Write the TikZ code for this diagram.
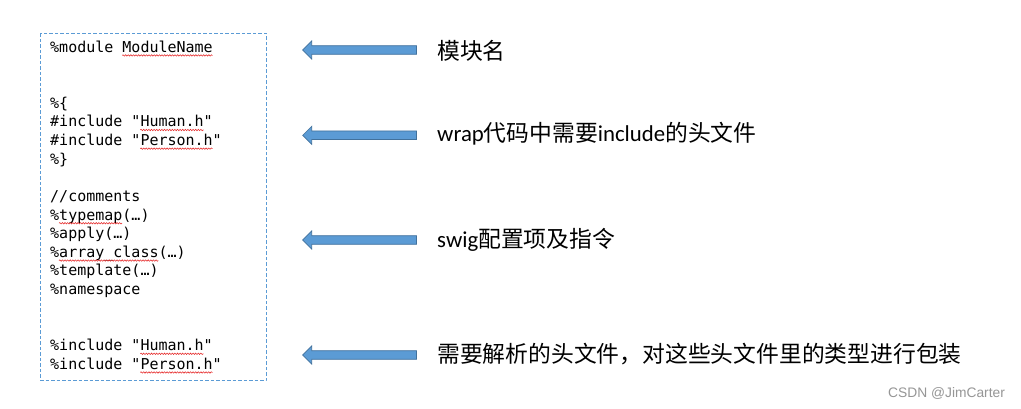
\documentclass[tikz,border=0pt]{standalone}
\usepackage{fontspec}
\setmainfont{Carlito}
\newfontfamily\cjk{Noto Sans CJK SC}
\newfontfamily\codefont{DejaVu Sans Mono}
\newfontfamily\wmfont{Liberation Sans}
\usetikzlibrary{decorations.pathmorphing}
\definecolor{arrowfill}{RGB}{91,155,213}
\definecolor{arrowedge}{RGB}{65,113,156}
\definecolor{boxedge}{RGB}{91,155,213}
\definecolor{wmgray}{RGB}{150,150,150}
\definecolor{squigred}{RGB}{230,40,40}
\def\cw{9.03}
\def\lh{18.65}
\def\by{52.2}
\newcommand\codeline[3]{\node[codetext] (#1) at (50,{\by+\lh*#2}) {#3};}
\newcommand\squig[3]{\draw[squiggle] ({50+\cw*#2},{\by+\lh*#1+3.2}) -- ({50+\cw*#3},{\by+\lh*#1+3.2});}
\newcommand\blockarrow[2]{%
  \coordinate (#1) at (302.7,#2);
  \filldraw[blockarrowstyle] (416.5,{#2-4.3}) -- (311.7,{#2-4.3}) -- (311.7,{#2-9}) -- (#1)
    -- (311.7,{#2+9}) -- (311.7,{#2+4.3}) -- (416.5,{#2+4.3}) -- cycle;}
\begin{document}
\begin{tikzpicture}[x=1pt,y=-1pt,
  codetext/.style={anchor=base west,inner sep=0pt,font=\codefont\fontsize{15}{18}\selectfont},
  lbl/.style={anchor=base west,inner sep=0pt,font=\fontsize{22.8}{28}\selectfont},
  squiggle/.style={draw=squigred,line width=0.55pt,decorate,decoration={snake,amplitude=0.7pt,segment length=2.6pt}},
  blockarrowstyle/.style={fill=arrowfill,draw=arrowedge,line width=0.7pt,line join=miter},
  codebox/.style={draw=boxedge,line width=0.8pt,dash pattern=on 3.5pt off 2pt}]
\useasboundingbox (0,0) rectangle (1021,409);
\fill[white] (0,0) rectangle (1021,409);
% dashed code box
\draw[codebox] (40.7,33.3) rectangle (266,380.5);
\node[inner sep=0pt] (box) at (153.3,206.9) {};
% code lines
\codeline{c0}{0}{\%module ModuleName}
\codeline{c3}{3}{\%\{}
\codeline{c4}{4}{\#include "Human.h"}
\codeline{c5}{5}{\#include "Person.h"}
\codeline{c6}{6}{\%\}}
\codeline{c8}{8}{//comments}
\codeline{c9}{9}{\%typemap(…)}
\codeline{c10}{10}{\%apply(…)}
\codeline{c11}{11}{\%array\_class(…)}
\codeline{c12}{12}{\%template(…)}
\codeline{c13}{13}{\%namespace}
\codeline{c16}{16}{\%include "Human.h"}
\codeline{c17}{17}{\%include "Person.h"}
% spell-check underlines
\squig{0}{8}{18}
\squig{4}{10}{17}
\squig{5}{10}{18}
\squig{9}{1}{8}
\squig{11}{1}{12}
\squig{16}{10}{17}
\squig{17}{10}{18}
% block arrows
\blockarrow{a1}{50}
\blockarrow{a2}{135.3}
\blockarrow{a3}{240}
\blockarrow{a4}{355}
% labels
\node[lbl] (l1) at (437,59.3) {\cjk 模块名};
\node[lbl] (l2) at (437,141.3) {wrap{\cjk 代码中需要}include{\cjk 的头文件}};
\node[lbl] (l3) at (437,247.3) {swig{\cjk 配置项及指令}};
\node[lbl] (l4) at (437,362.3) {\cjk 需要解析的头文件，对这些头文件里的类型进行包装};
% watermark
\node[anchor=base west,inner sep=0pt,text=wmgray,font=\wmfont\fontsize{13.8}{16}\selectfont] (wm) at (888,397) {CSDN @JimCarter};
\end{tikzpicture}
\end{document}
